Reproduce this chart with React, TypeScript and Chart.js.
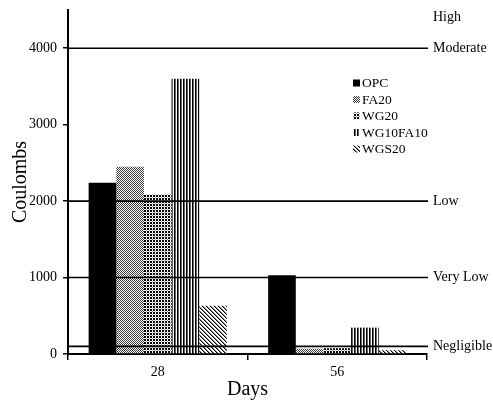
import React, { useEffect, useRef } from "react";
import { Chart, registerables } from "chart.js";

Chart.register(...registerables);

const categories = ["28", "56"];
const seriesNames = ["OPC", "FA20", "WG20", "WG10FA10", "WGS20"];
const opc = [2240, 1030];
const fa20 = [2450, 70];
const wg20 = [2090, 75];
const wg10fa10 = [3600, 345];
const wgs20 = [630, 50];
const yTickValues = [0, 1000, 2000, 3000, 4000];
const thresholdValues = [4000, 2000, 1000, 100];
const ratingLabels = ["High", "Moderate", "Low", "Very Low", "Negligible"];
const ratingLabelValues = [4400, 4000, 2000, 1000, 100];

const FONT = "'Liberation Serif', 'Times New Roman', serif";

function makePattern(w: number, h: number, draw: (ctx: CanvasRenderingContext2D) => void) {
  const c = document.createElement("canvas");
  c.width = w;
  c.height = h;
  const ctx = c.getContext("2d")!;
  ctx.fillStyle = "#fff";
  ctx.fillRect(0, 0, w, h);
  draw(ctx);
  return ctx.createPattern(c, "repeat")!;
}

function buildFills() {
  const solid = "#000";
  const fa = makePattern(2, 2, (ctx) => {
    ctx.fillStyle = "#3a3a3a";
    ctx.fillRect(0, 0, 1, 1);
    ctx.fillRect(1, 1, 1, 1);
  });
  const wg = makePattern(3, 3, (ctx) => {
    ctx.fillStyle = "#000";
    ctx.fillRect(0, 0, 2, 2);
    ctx.fillStyle = "#aaa";
    ctx.fillRect(2, 2, 1, 1);
  });
  const wgfa = makePattern(3, 1, (ctx) => {
    ctx.fillStyle = "#000";
    ctx.fillRect(0, 0, 1, 1);
    ctx.fillStyle = "#666";
    ctx.fillRect(1, 0, 1, 1);
  });
  const wgs = makePattern(4, 4, (ctx) => {
    for (let y = 0; y < 4; y++) {
      for (let x = 0; x < 4; x++) {
        const d = (((x - y) % 4) + 4) % 4;
        if (d === 0) {
          ctx.fillStyle = "#000";
          ctx.fillRect(x, y, 1, 1);
        } else if (d === 1) {
          ctx.fillStyle = "#888";
          ctx.fillRect(x, y, 1, 1);
        }
      }
    }
  });
  return [solid, fa, wg, wgfa, wgs];
}

const overlayPlugin = {
  id: "overlay",
  afterDatasetsDraw(chart: any) {
    const { ctx, chartArea, scales } = chart;
    const y = scales.y;
    ctx.save();
    ctx.strokeStyle = "#000";
    ctx.lineWidth = 1.6;
    thresholdValues.forEach((v) => {
      const py = y.getPixelForValue(v);
      ctx.beginPath();
      ctx.moveTo(chartArea.left, py);
      ctx.lineTo(chartArea.right + 1, py);
      ctx.stroke();
    });
    ctx.fillStyle = "#000";
    ctx.font = `14px ${FONT}`;
    ctx.textAlign = "left";
    ctx.textBaseline = "middle";
    ratingLabels.forEach((t, i) => {
      const py = y.getPixelForValue(ratingLabelValues[i]);
      ctx.fillText(t, chartArea.right + 6, py);
    });
    // legend
    ctx.font = `13.5px ${FONT}`;
    const lx = 353;
    const ly0 = 83;
    const step = 16.5;
    chart.data.datasets.forEach((ds: any, i: number) => {
      const cy = ly0 + i * step;
      ctx.fillStyle = ds.backgroundColor;
      ctx.fillRect(lx, cy - 3.5, 7, 7);
      ctx.fillStyle = "#000";
      ctx.fillText(ds.label, lx + 9, cy + 0.5);
    });
    ctx.restore();
  },
};

export default function App() {
  const ref = useRef<HTMLCanvasElement>(null);
  useEffect(() => {
    const fills = buildFills();
    const values = [opc, fa20, wg20, wg10fa10, wgs20];
    const chart = new Chart(ref.current!, {
      type: "bar",
      data: {
        labels: categories,
        datasets: seriesNames.map((name, i) => ({
          label: name,
          data: values[i],
          backgroundColor: fills[i] as any,
          borderWidth: 0,
          categoryPercentage: 0.77,
          barPercentage: 1,
        })),
      },
      options: {
        animation: false,
        responsive: true,
        maintainAspectRatio: false,
        layout: { padding: { left: 0, right: 66, top: 10, bottom: 0 } },
        plugins: {
          legend: { display: false },
          tooltip: { enabled: false },
        },
        scales: {
          x: {
            grid: { display: true, drawOnChartArea: false, tickLength: 6, color: "#000", lineWidth: 1.5 },
            border: { color: "#000", width: 2 },
            ticks: { color: "#000", font: { family: FONT, size: 14 }, padding: 4 },
            title: {
              display: true,
              text: "Days",
              color: "#000",
              font: { family: FONT, size: 20 },
              padding: { top: 0, bottom: 2 },
            },
            afterFit: (s: any) => {
              s.height = 50;
              s.paddingLeft = 0;
              s.paddingRight = 0;
            },
          },
          y: {
            min: 0,
            max: 4500,
            grid: { display: true, drawOnChartArea: false, tickLength: 5, color: "#000", lineWidth: 1.5 },
            border: { color: "#000", width: 2 },
            ticks: {
              autoSkip: false,
              color: "#000",
              font: { family: FONT, size: 14 },
              padding: 6,
              callback: (v: any) => String(v),
            },
            afterBuildTicks: (s: any) => {
              s.ticks = yTickValues.map((v) => ({ value: v }));
            },
            title: {
              display: true,
              text: "Coulombs",
              color: "#000",
              font: { family: FONT, size: 20 },
              padding: { top: 9, bottom: 0 },
            },
            afterFit: (s: any) => {
              s.width = 68;
              s.paddingTop = 0;
              s.paddingBottom = 0;
            },
          },
        },
      },
      plugins: [overlayPlugin],
    });
    return () => chart.destroy();
  }, []);
  return (
    <div style={{ position: "absolute", left: 0, top: 0, width: 493, height: 404, background: "#fff" }}>
      <canvas ref={ref} />
    </div>
  );
}
